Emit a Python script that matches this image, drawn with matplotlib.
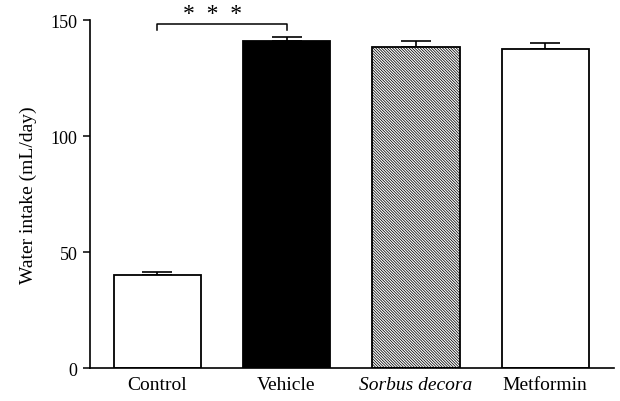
import numpy as np
import matplotlib.pyplot as plt

groups = ['Control', 'Vehicle', 'Sorbus decora', 'Metformin']
intake = [40.0, 141.0, 138.6, 137.5]
sem = [1.6, 1.8, 2.5, 2.6]
colors = ['white', 'black', 'white', 'white']
hatches = ['', '', '\\' * 12, '']

plt.rcParams['font.family'] = ['Liberation Serif', 'DejaVu Serif']
plt.rcParams['hatch.linewidth'] = 0.55
plt.rcParams['hatch.color'] = '#3a3a3a'

fig = plt.figure(figsize=(6.2, 4.02), dpi=100)
ax = fig.add_axes([0.145, 0.082, 0.845, 0.865])

x = np.arange(len(groups))
bars = ax.bar(x, intake, width=0.675, color=colors, edgecolor='black',
              linewidth=1.3, zorder=2)
for b, h in zip(bars, hatches):
    if h:
        b.set_hatch(h)
ax.errorbar(x, intake, yerr=[np.zeros(len(sem)), sem], fmt='none',
            ecolor='black', elinewidth=1.2, capsize=11, capthick=1.2, zorder=1)

# significance bracket Control vs Vehicle
ax.plot([0, 0, 1, 1], [146, 148.6, 148.6, 146], color='black', lw=1.1, clip_on=False)
ax.text(0.43, 148.6, '*  *  *', ha='center', va='bottom', fontsize=17,
        clip_on=False)

ax.set_xlim(-0.52, 3.53)
ax.set_ylim(0, 150)
ax.set_yticks([0, 50, 100, 150])
ax.set_xticks(x)
ax.set_xticklabels(groups, fontsize=14)
ax.get_xticklabels()[2].set_style('italic')
ax.tick_params(axis='x', length=0, pad=6)
ax.tick_params(axis='y', length=5, width=1.1, labelsize=13, pad=4)
ax.set_ylabel('Water intake (mL/day)', fontsize=14, labelpad=10)

for s in ['top', 'right']:
    ax.spines[s].set_visible(False)
ax.spines['left'].set_linewidth(1.2)
ax.spines['bottom'].set_linewidth(1.2)

fig.savefig('out.png', dpi=100)
